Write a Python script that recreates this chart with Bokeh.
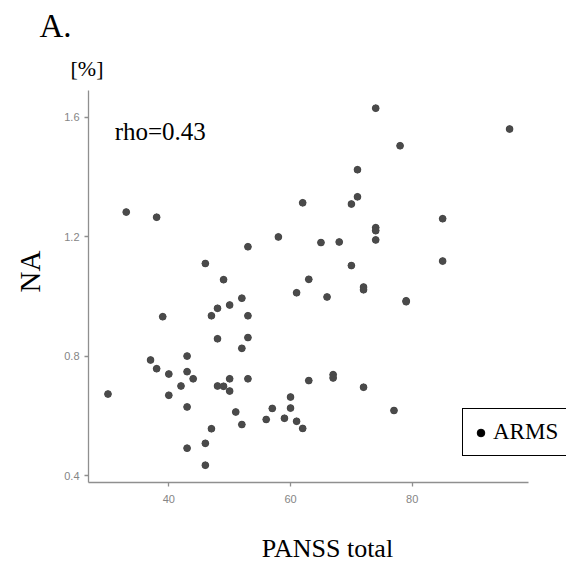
from bokeh.plotting import figure
from bokeh.models import (Range1d, FixedTicker, Label, Legend, LegendItem, ColumnDataSource,
                          LinearAxis, Title)
from bokeh.embed import file_html
from bokeh.resources import INLINE

# ---- data ----
panss_total = [33, 38, 46, 49, 53, 74, 78, 71, 62, 71, 70, 58, 74, 74, 74, 65, 68, 70,
               63, 72, 72, 61, 66, 79, 79, 96, 85, 85, 52, 39, 47, 48, 50, 53, 48, 53,
               52, 37, 43, 38, 40, 43, 44, 42, 48, 49, 50, 53, 50, 30, 40, 43, 51, 52,
               47, 46, 43, 46, 63, 67, 67, 72, 60, 57, 60, 77, 56, 59, 61, 62]
na_values = [1.283, 1.266, 1.111, 1.057, 1.167, 1.631, 1.505, 1.425, 1.314, 1.334, 1.310,
             1.200, 1.231, 1.221, 1.190, 1.181, 1.183, 1.104, 1.058, 1.032, 1.023, 1.013,
             0.999, 0.986, 0.983, 1.561, 1.261, 1.119, 0.995, 0.933, 0.936, 0.961, 0.972,
             0.936, 0.859, 0.863, 0.827, 0.788, 0.801, 0.759, 0.741, 0.749, 0.725, 0.701,
             0.701, 0.700, 0.725, 0.725, 0.684, 0.674, 0.670, 0.631, 0.614, 0.572, 0.558,
             0.509, 0.493, 0.436, 0.719, 0.739, 0.728, 0.697, 0.664, 0.626, 0.627, 0.619,
             0.589, 0.593, 0.583, 0.559]
x_ticks = [40, 60, 80]
y_ticks = [0.4, 0.8, 1.2, 1.6]
group_label = "ARMS"
rho_text = "rho=0.43"
x_title = "PANSS total"
y_title = "NA"
y_unit = "[%]"
panel_tag = "A."

SERIF = "Liberation Serif"
AXIS_GREY = "#8f8f8f"

p = figure(width=580, height=565, output_backend="svg", toolbar_location=None,
           x_range=Range1d(26.8, 105.35), y_range=Range1d(0.378, 1.69),
           min_border_left=88, min_border_right=14, min_border_top=90, min_border_bottom=82)
p.outline_line_color = None
p.xgrid.visible = False
p.ygrid.visible = False
p.background_fill_color = "white"
p.border_fill_color = "white"

for ax in (p.xaxis[0], p.yaxis[0]):
    ax.axis_line_color = AXIS_GREY
    ax.axis_line_width = 1.3
    ax.major_tick_line_color = AXIS_GREY
    ax.major_tick_line_width = 1.3
    ax.major_tick_out = 4
    ax.major_tick_in = 0
    ax.minor_tick_line_color = None
    ax.major_label_text_color = "#858585"
    ax.major_label_text_font = "Liberation Sans"
    ax.major_label_text_font_size = "11px"
    ax.major_label_standoff = 8
p.xaxis[0].ticker = FixedTicker(ticks=x_ticks)
p.xaxis[0].bounds = (26.8, 99.1)
p.yaxis[0].ticker = FixedTicker(ticks=y_ticks)
p.yaxis[0].major_label_standoff = 5

# x title carried by a label-only axis below the tick axis
p.add_layout(LinearAxis(ticker=FixedTicker(ticks=[]), axis_label=x_title,
                        axis_line_color=None, major_tick_line_color=None,
                        minor_tick_line_color=None, major_tick_out=0, major_tick_in=0,
                        major_label_standoff=0, axis_label_standoff=28,
                        axis_label_text_font=SERIF, axis_label_text_font_size="26px",
                        axis_label_text_font_style="normal", axis_label_text_color="black"),
             "below")

# y title on the left, reading upwards
p.add_layout(Title(text=y_title, align="left", offset=190, vertical_align="top", standoff=27,
                   text_font=SERIF, text_font_size="29px", text_font_style="normal",
                   text_color="black"), "left")

# texts above the frame
p.add_layout(Title(text=y_unit, align="left", offset=-18, vertical_align="top", standoff=16,
                   text_font=SERIF, text_font_size="22px", text_font_style="normal",
                   text_color="black"), "above")
p.add_layout(Title(text=panel_tag, align="left", offset=-49, vertical_align="bottom", standoff=8,
                   text_font=SERIF, text_font_size="33px", text_font_style="normal",
                   text_color="black"), "above")

src = ColumnDataSource(data=dict(x=panss_total, y=na_values))
key = p.scatter("x", "y", source=src, size=6, fill_color="black", line_color="black")
p.scatter("x", "y", source=src, size=7, fill_color="#4a4a4a", line_color="#4a4a4a", line_width=0.5)

legend = Legend(items=[LegendItem(label=group_label, renderers=[key])],
                location=(374, 26), orientation="vertical",
                border_line_color="black", border_line_width=1.2, border_line_alpha=1,
                background_fill_color="white", background_fill_alpha=1,
                padding=8, margin=0, spacing=0,
                glyph_width=19, glyph_height=19, label_standoff=3, label_height=30,
                label_text_font=SERIF, label_text_font_size="23px", label_text_color="black")
p.add_layout(legend, "center")

p.add_layout(Label(x=31.1, y=1.554, text=rho_text, text_font=SERIF, text_font_size="25px",
                   text_color="black", text_baseline="alphabetic", text_align="left"))

open("out.html", "w").write(file_html(p, INLINE))
